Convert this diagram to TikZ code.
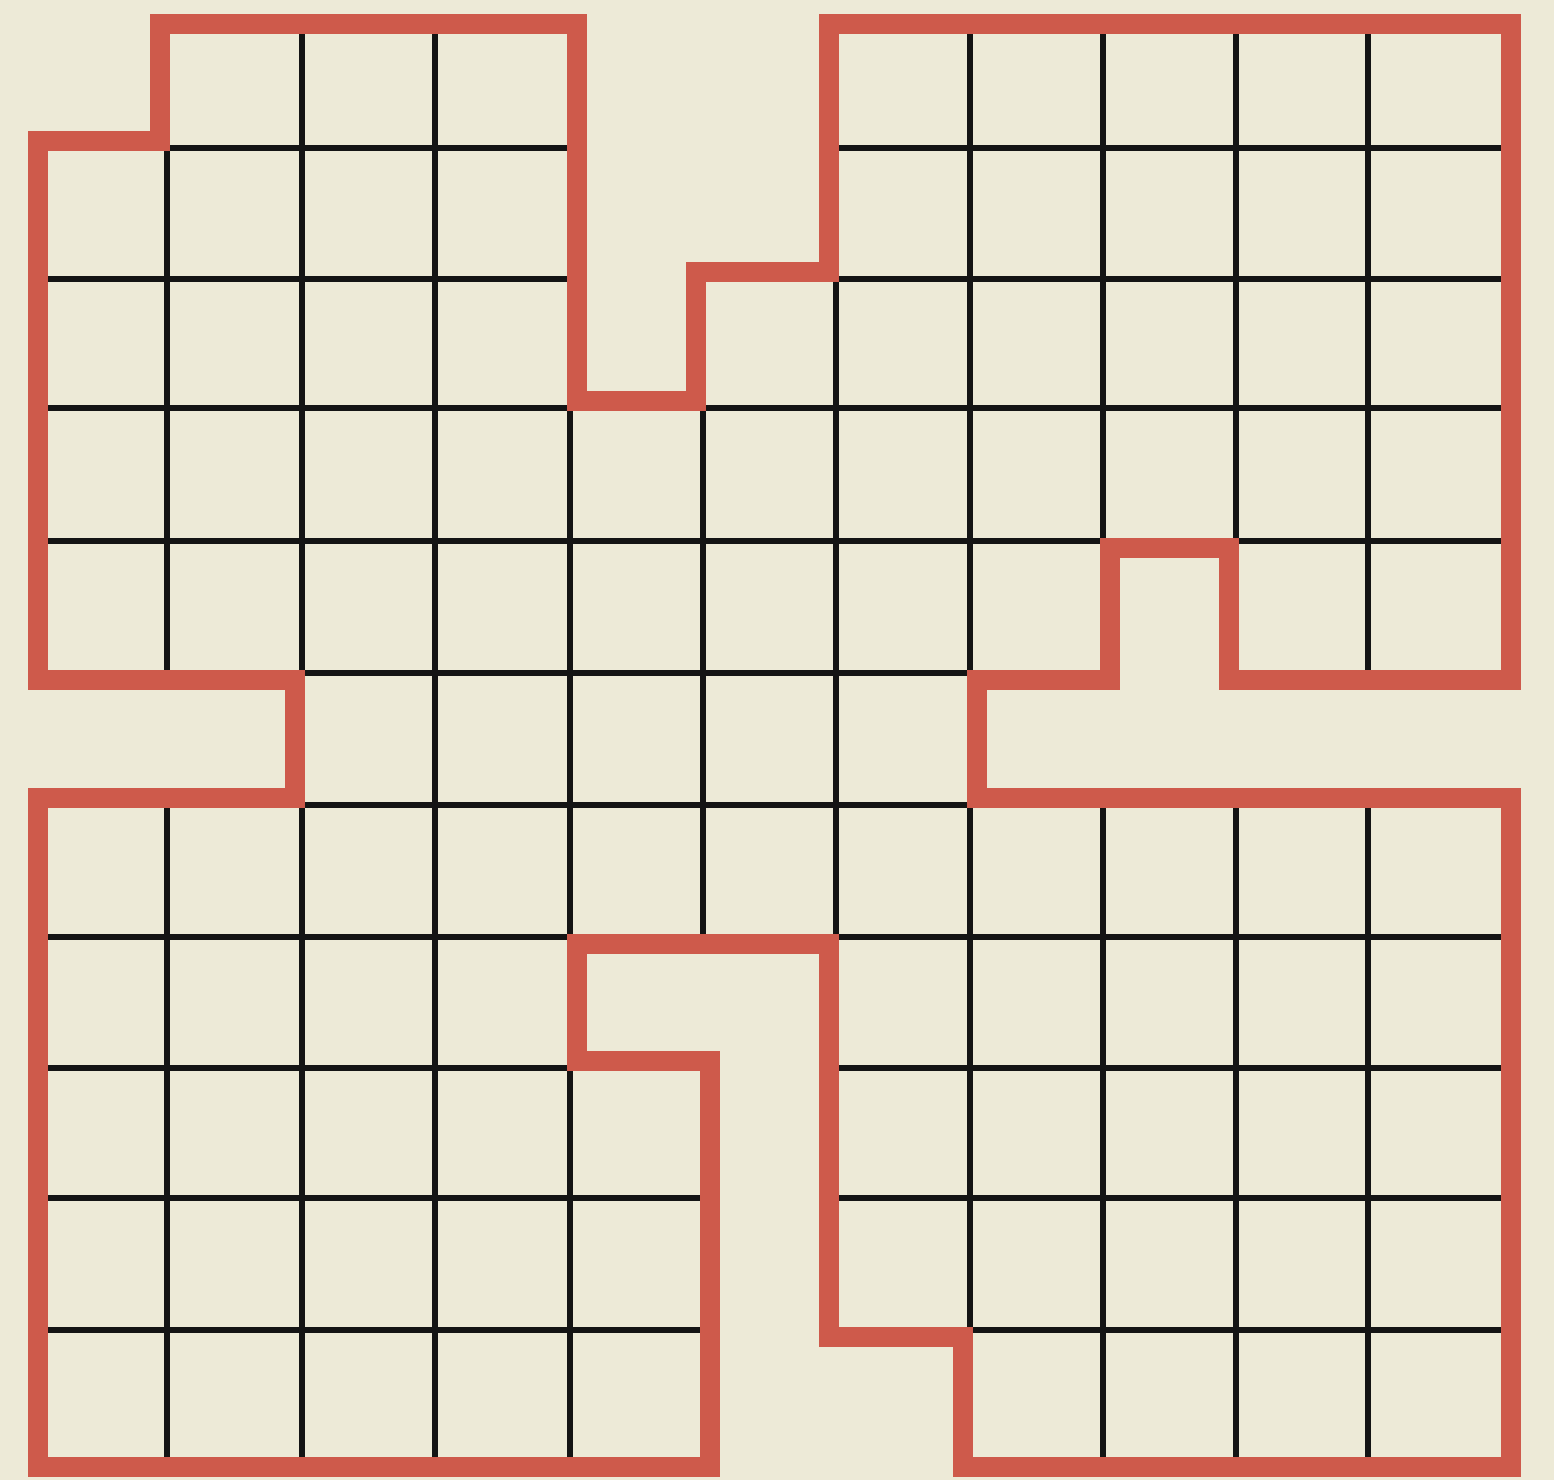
\documentclass[tikz,border=0pt]{standalone}
\usetikzlibrary{backgrounds}
\definecolor{paper}{HTML}{EDEAD7}
\definecolor{redline}{HTML}{CE5A4B}
\definecolor{inkline}{HTML}{141414}
\tikzset{
  gridline/.style={draw=inkline, line width=2.7pt, line cap=butt},
  border/.style={draw=redline, line width=10pt, line join=miter},
}
\begin{document}
\begin{tikzpicture}[x=0.5pt,y=-0.5pt]
\useasboundingbox (0,0) rectangle (1554,1480);
\fill[paper] (0,0) rectangle (1554,1480);
% grid lines clipped to the region
\begin{scope}
\clip (167,31) -- (570,31) -- (570,408) -- (703,408) -- (703,279) -- (836,279) -- (836,31)
 -- (1504,31) -- (1504,673) -- (1236,673) -- (1236,541) -- (1103,541) -- (1103,673)
 -- (970,673) -- (970,805) -- (1504,805) -- (1504,1460) -- (970,1460) -- (970,1330)
 -- (836,1330) -- (836,937) -- (570,937) -- (570,1068) -- (703,1068) -- (703,1460)
 -- (45,1460) -- (45,805) -- (302,805) -- (302,673) -- (45,673) -- (45,148) -- (167,148) -- cycle;
\foreach \x in {167,302,435,570,703,836,970,1103,1236,1368}
  \draw[gridline] (\x,20) -- (\x,1470);
\foreach \y in {148,279,408,541,673,805,937,1068,1198,1330}
  \draw[gridline] (30,\y) -- (1520,\y);
\end{scope}
% red outline
\draw[border] (160,24) -- (577,24) -- (577,401) -- (696,401) -- (696,272) -- (829,272) -- (829,24)
 -- (1511,24) -- (1511,680) -- (1229,680) -- (1229,548) -- (1110,548) -- (1110,680)
 -- (977,680) -- (977,798) -- (1511,798) -- (1511,1467) -- (963,1467) -- (963,1337)
 -- (829,1337) -- (829,944) -- (577,944) -- (577,1061) -- (710,1061) -- (710,1467)
 -- (38,1467) -- (38,798) -- (295,798) -- (295,680) -- (38,680) -- (38,141) -- (160,141) -- cycle;
\end{tikzpicture}
\end{document}
